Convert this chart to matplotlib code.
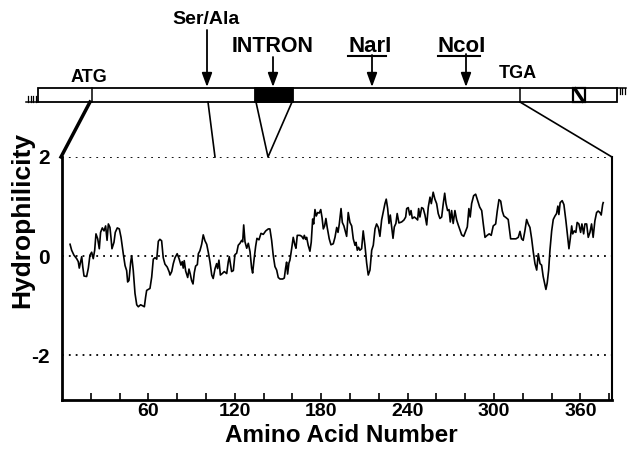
import matplotlib
matplotlib.use("Agg")
import matplotlib.pyplot as plt
from matplotlib.patches import Rectangle
import numpy as np

plt.rcParams['font.family'] = ['Liberation Sans', 'DejaVu Sans']
plt.rcParams['font.weight'] = 'bold'

# hydrophilicity profile (residue number, value)
residue = [
    5.6, 6.7, 8.3, 10.2, 11.3, 12.0, 13.7, 14.4, 15.3, 17.1, 18.3, 19.4, 20.6, 21.7, 22.7,
    23.6, 24.8, 25.9, 26.8, 28.0, 29.2, 30.3, 31.3, 32.2, 33.3, 34.0, 34.7, 36.1, 37.0, 38.4,
    39.8, 41.0, 42.6, 43.8, 44.9, 45.6, 46.5, 47.7, 48.4, 49.5, 50.7, 51.9, 53.0, 54.6, 56.0,
    57.2, 58.1, 58.8, 59.9, 61.1, 62.3, 63.4, 64.6, 65.8, 66.9, 68.0, 69.2, 70.3, 71.5, 73.1,
    74.5, 75.0, 76.2, 77.3, 78.5, 80.0, 81.3, 82.6, 83.5, 84.2, 84.9, 85.9, 87.3, 88.2, 89.1,
    90.0, 91.0, 91.9, 92.8, 94.0, 94.7, 95.8, 97.0, 98.1, 99.3, 100.5, 101.6, 102.8, 104.0, 105.0,
    106.3, 107.4, 108.1, 109.0, 110.0, 111.3, 112.7, 114.4, 115.5, 116.2, 116.9, 117.8, 119.0, 120.1, 121.3,
    122.4, 123.6, 124.8, 125.5, 126.2, 127.1, 128.3, 129.4, 130.6, 131.7, 132.4, 133.5, 134.5, 135.4, 136.8,
    138.2, 139.8, 141.5, 143.3, 144.4, 145.6, 146.7, 147.9, 149.1, 150.2, 151.4, 153.3, 154.4, 155.3, 156.0,
    156.7, 157.6, 158.3, 159.5, 160.6, 161.8, 162.5, 163.4, 165.3, 166.5, 167.6, 168.3, 169.2, 169.9, 171.0,
    172.2, 173.1, 174.1, 174.8, 175.7, 176.6, 177.6, 178.7, 179.7, 180.6, 181.5, 182.4, 183.3, 184.2, 185.6,
    186.8, 188.4, 189.6, 190.8, 191.7, 192.6, 193.8, 194.7, 195.8, 196.7, 197.7, 198.8, 200.0, 201.2, 202.3,
    203.5, 204.2, 205.1, 206.0, 206.9, 208.1, 209.2, 210.4, 211.6, 212.7, 213.9, 215.1, 216.2, 217.4, 218.5,
    219.7, 220.8, 222.0, 223.1, 224.3, 225.2, 226.2, 227.1, 228.0, 229.0, 229.9, 230.8, 231.9, 232.8, 234.0,
    235.9, 237.5, 238.7, 239.4, 240.5, 241.5, 242.4, 243.3, 244.7, 246.0, 247.0, 247.7, 248.6, 249.8, 250.9,
    252.1, 253.3, 254.4, 255.6, 256.5, 257.8, 259.0, 260.2, 261.3, 262.5, 263.7, 264.8, 265.8, 266.7, 267.8,
    268.8, 269.7, 270.6, 271.7, 272.9, 274.1, 275.2, 276.4, 277.6, 279.0, 280.3, 281.5, 282.6, 283.5, 284.5,
    285.9, 287.3, 288.7, 290.1, 291.5, 292.6, 293.8, 295.3, 296.7, 298.1, 299.5, 301.2, 302.3, 303.5, 304.7,
    305.8, 306.9, 308.3, 309.9, 311.6, 313.4, 315.3, 316.9, 318.1, 319.2, 320.3, 321.5, 322.7, 323.8, 325.0,
    326.2, 327.3, 328.5, 329.7, 330.8, 332.0, 333.1, 334.2, 335.4, 336.1, 337.0, 338.0, 338.9, 340.1, 341.2,
    342.4, 343.5, 344.4, 345.1, 346.0, 347.4, 348.6, 350.0, 351.2, 352.1, 353.0, 354.0, 354.7, 355.8, 356.9,
    357.8, 359.0, 360.2, 361.1, 362.3, 363.2, 364.4, 365.5, 366.7, 367.8, 368.9, 370.1, 371.3, 372.4, 373.6,
    374.5, 375.5, 375.9,
]
hydrophilicity = [
    0.24, 0.12, 0.02, -0.05, -0.11, -0.24, -0.01, -0.21, -0.40, -0.41, -0.24, 0.02, 0.08, -0.05, 0.12,
    0.45, 0.35, 0.15, 0.48, 0.57, 0.51, 0.61, 0.32, 0.65, 0.58, 0.38, 0.15, 0.28, 0.48, 0.57,
    0.55, 0.38, 0.04, -0.19, -0.29, -0.52, -0.49, -0.12, 0.01, -0.29, -0.75, -0.98, -1.02, -0.98, -1.00,
    -1.02, -0.82, -0.69, -0.67, -0.65, -0.42, -0.06, -0.03, -0.06, 0.30, 0.34, 0.31, -0.03, -0.16, -0.22,
    -0.32, -0.38, -0.31, -0.15, -0.03, 0.05, -0.05, -0.18, -0.11, -0.24, -0.09, -0.30, -0.43, -0.26, -0.36,
    -0.49, -0.56, -0.33, -0.20, -0.17, 0.05, 0.11, 0.24, 0.43, 0.31, 0.24, 0.08, -0.12, -0.38, -0.45,
    -0.25, -0.15, -0.25, -0.08, -0.38, -0.35, -0.31, -0.35, -0.11, -0.01, -0.14, -0.31, -0.29, 0.03, 0.06,
    0.22, 0.26, 0.32, 0.29, 0.63, 0.29, 0.16, 0.26, 0.09, -0.24, -0.34, -0.04, 0.20, 0.36, 0.33,
    0.46, 0.44, 0.51, 0.55, 0.55, 0.32, 0.02, -0.21, -0.28, -0.43, -0.46, -0.46, -0.44, -0.24, -0.12,
    -0.36, -0.14, -0.08, 0.15, 0.38, 0.22, 0.16, 0.42, 0.42, 0.40, 0.35, 0.42, 0.34, 0.38, 0.22,
    0.10, 0.28, 0.75, 0.65, 0.94, 0.81, 0.88, 0.87, 0.94, 0.78, 0.55, 0.61, 0.76, 0.58, 0.35,
    0.23, 0.25, 0.38, 0.58, 0.48, 0.65, 0.96, 0.68, 0.61, 0.51, 0.40, 0.88, 0.68, 0.61, 0.35,
    0.22, 0.28, 0.12, 0.18, 0.12, 0.15, 0.51, 0.22, -0.14, -0.38, -0.28, 0.12, 0.22, 0.55, 0.65,
    0.58, 0.40, 0.73, 0.89, 1.06, 1.15, 0.96, 0.66, 0.83, 0.59, 0.36, 0.59, 0.66, 0.86, 0.67,
    0.69, 0.73, 0.79, 0.96, 0.98, 0.83, 0.92, 0.76, 0.79, 0.76, 0.73, 0.96, 0.79, 0.98, 0.96,
    0.83, 0.63, 0.99, 1.19, 1.06, 1.29, 1.15, 1.06, 0.86, 0.76, 0.79, 1.06, 1.27, 1.06, 0.92,
    0.94, 0.69, 0.92, 0.66, 0.92, 0.73, 0.63, 0.53, 0.43, 0.40, 0.50, 0.59, 0.96, 0.79, 1.06,
    1.22, 1.25, 1.12, 0.99, 0.92, 0.65, 0.38, 0.42, 0.45, 0.42, 0.61, 0.65, 0.91, 1.14, 1.11,
    0.91, 0.81, 0.78, 0.74, 0.35, 0.35, 0.35, 0.38, 0.50, 0.35, 0.32, 0.51, 0.74, 0.65, 0.58,
    0.35, 0.09, -0.15, -0.28, 0.05, -0.15, -0.18, -0.41, -0.57, -0.67, -0.54, -0.28, 0.12, 0.51, 0.74,
    0.81, 0.86, 1.01, 0.84, 1.08, 1.12, 1.04, 0.71, 0.38, 0.15, 0.35, 0.61, 0.45, 0.51, 0.48,
    0.68, 0.65, 0.48, 0.65, 0.45, 0.65, 0.65, 0.38, 0.48, 0.65, 0.38, 0.71, 0.88, 0.91, 0.88,
    0.83, 1.04, 1.08,
]

x_ticks = list(range(20, 381, 20))
x_labelled = [60, 120, 180, 240, 300, 360]
y_ticks = [-2, 0, 2]
guide_levels = [2, 0, -2]

# gene map labels
site_labels = ["Ser/Ala", "INTRON", "NarI", "NcoI"]
codon_labels = ["ATG", "TGA"]

W, H = 632, 449
fig = plt.figure(figsize=(W / 100, H / 100), dpi=100)

######################## hydrophilicity plot ########################
ax = fig.add_axes([62 / W, 49 / H, 550 / W, 243 / H])
ax.set_facecolor('none')
ax.plot(residue, hydrophilicity, color='black', lw=1.2)
for lv in guide_levels:
    ax.axhline(lv, color='black', lw=1.3, ls=(0, (1, 2.8)))
ax.set_xlim(0, 382)
ax.set_ylim(-2.9, 2.0)

ax.spines['top'].set_visible(False)
ax.spines['left'].set_linewidth(2)
ax.spines['bottom'].set_linewidth(2)
ax.spines['right'].set_linewidth(1.5)

ax.set_xticks(x_ticks)
ax.set_xticklabels([str(t) if t in x_labelled else '' for t in x_ticks])
ax.tick_params(axis='x', direction='in', length=5, width=1.2, pad=2, labelsize=14)
ax.set_yticks(y_ticks)
ax.set_yticklabels([str(t) for t in y_ticks])
ax.tick_params(axis='y', length=0, pad=9, labelsize=15)

fig.text(341 / W, 1 - 436 / H, 'Amino Acid Number', ha='center', va='center',
         fontsize=17.5, fontweight='bold')
fig.text(22 / W, 1 - 220 / H, 'Hydrophilicity', ha='center', va='center',
         rotation=90, fontsize=19, fontweight='bold')

######################## gene map (pixel coords) ########################
axm = fig.add_axes([0, 0, 1, 1])
axm.set_xlim(0, W)
axm.set_ylim(H, 0)
axm.axis('off')

bar_top, bar_bot = 88, 102
axm.add_patch(Rectangle((38, bar_top), 579, bar_bot - bar_top, fc='white', ec='black', lw=1.3))
axm.add_patch(Rectangle((255, bar_top), 38, bar_bot - bar_top, fc='black', ec='black', lw=1.3))
axm.add_patch(Rectangle((573, bar_top), 12, bar_bot - bar_top, fc='white', ec='black', lw=1.6))
axm.plot([575, 583], [bar_top + 1, bar_bot - 1], color='black', lw=2.5)
for xv in [92, 520]:
    axm.plot([xv, xv], [bar_top, bar_bot], color='black', lw=1.1)

# flanking ends
for xv in [28, 30.5, 33, 35.5]:
    axm.plot([xv, xv], [bar_bot - 6, bar_bot], color='black', lw=0.9)
axm.plot([26, 38], [bar_bot, bar_bot], color='black', lw=1.1)
for xv in [619.5, 622, 624.5]:
    axm.plot([xv, xv], [bar_top, bar_top + 6], color='black', lw=0.9)
axm.plot([617, 626], [bar_top, bar_top], color='black', lw=1.1)

# arrows and site names
arrow_x = [207, 273, 372, 466]
arrow_y0 = [30, 57, 55, 54]
label_pos = [(206, 20), (273, 46), (370, 46), (462, 46)]
label_size = [14, 15.5, 16, 16]
for i, name in enumerate(site_labels):
    axm.annotate('', xy=(arrow_x[i], bar_top - 1), xytext=(arrow_x[i], arrow_y0[i]),
                 arrowprops=dict(arrowstyle='-|>,head_length=0.6,head_width=0.22',
                                 color='black', lw=1.3, shrinkA=0, shrinkB=0,
                                 mutation_scale=14))
    axm.text(label_pos[i][0], label_pos[i][1], name, ha='center', va='center',
             fontsize=label_size[i], fontweight='bold')

axm.text(89, 78, codon_labels[0], ha='center', va='center', fontsize=13, fontweight='bold')
axm.text(518, 74, codon_labels[1], ha='center', va='center', fontsize=13, fontweight='bold')

# underline the enzyme names (without the final I)
fig.canvas.draw()
renderer = fig.canvas.get_renderer()
inv = axm.transData.inverted()
for name, (lx, ly), fs in zip(site_labels[2:], label_pos[2:], label_size[2:]):
    full = axm.text(lx, ly, name, ha='center', va='center', fontsize=fs,
                    fontweight='bold', alpha=0)
    part = axm.text(lx, ly, name[:-1], ha='center', va='center', fontsize=fs,
                    fontweight='bold', alpha=0)
    bb_full = full.get_window_extent(renderer)
    bb_part = part.get_window_extent(renderer)
    x0, y0 = inv.transform((bb_full.x0, bb_full.y0))
    x1, _ = inv.transform((bb_full.x0 + bb_part.width, bb_full.y0))
    axm.plot([x0, x1], [y0 - 1, y0 - 1], color='black', lw=1.5)
    full.remove()
    part.remove()

# lines from the map down to the plot
plot_top = 157
axm.plot([90, 61], [bar_bot, plot_top], color='black', lw=2.5)
axm.plot([208, 215], [bar_bot, plot_top], color='black', lw=1.2)
axm.plot([256, 268, 292], [bar_bot, plot_top, bar_bot], color='black', lw=1.2)
axm.plot([520, 612], [bar_bot, plot_top], color='black', lw=1.2)

fig.savefig('out.png', dpi=100)
